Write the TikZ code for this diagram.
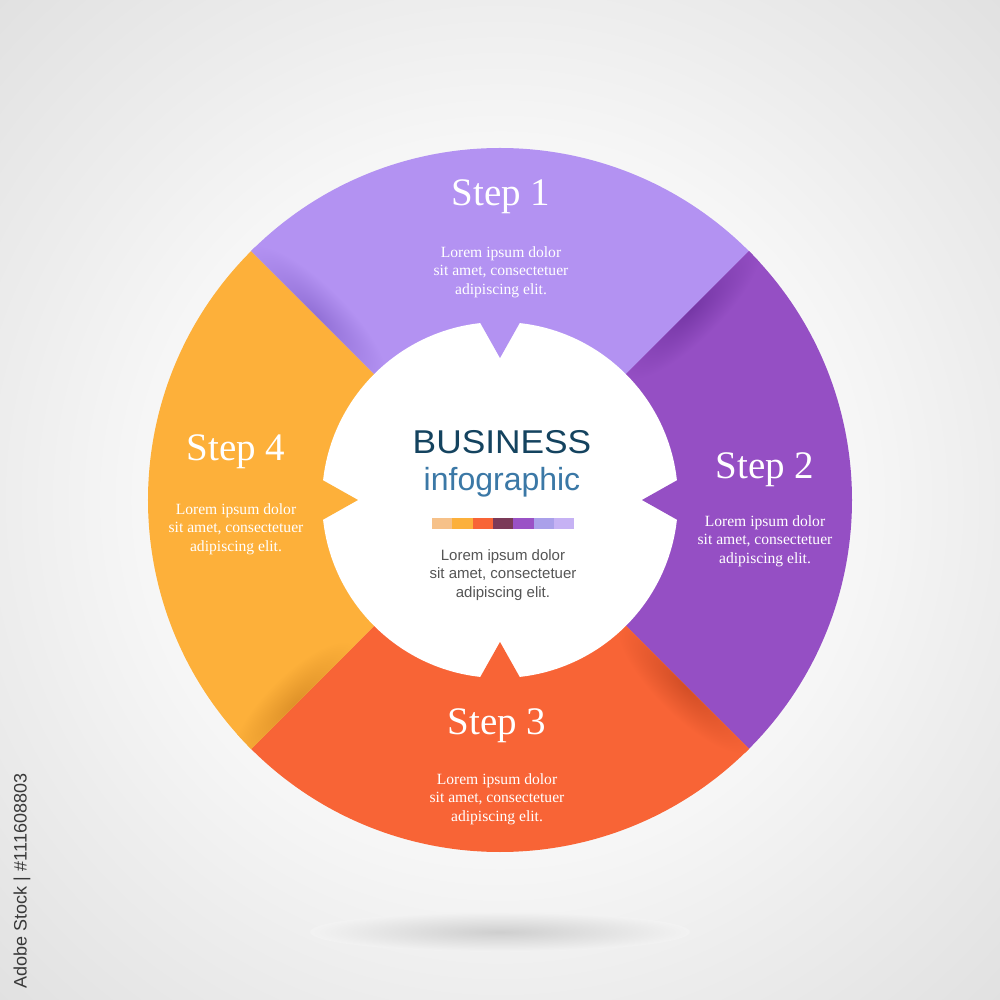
\documentclass[tikz,border=0pt]{standalone}
\usepackage{fontspec}
\setmainfont{Liberation Serif}
\setsansfont{Liberation Sans}
\definecolor{secA}{HTML}{B392F2}
\definecolor{secB}{HTML}{954FC4}
\definecolor{secC}{HTML}{F86436}
\definecolor{secD}{HTML}{FDB03A}
\definecolor{shA}{HTML}{9270D6}
\definecolor{shB}{HTML}{7637A6}
\definecolor{shC}{HTML}{D24E26}
\definecolor{shD}{HTML}{DE9128}
\definecolor{titleblue}{HTML}{14435F}
\definecolor{subblue}{HTML}{3B78A6}
\definecolor{txtgray}{HTML}{555555}
\definecolor{barA}{HTML}{F6C189}
\definecolor{barB}{HTML}{FCB03B}
\definecolor{barC}{HTML}{F86436}
\definecolor{barD}{HTML}{7B3A58}
\definecolor{barE}{HTML}{9A52C6}
\definecolor{barF}{HTML}{AAA0EA}
\definecolor{barG}{HTML}{C6B2F4}
\pgfdeclareradialshading{bgshade}{\pgfpointorigin}{color(0bp)=(white); color(17bp)=(white!97!black); color(25bp)=(white!93!black); color(36bp)=(white!88!black); color(50bp)=(white!88!black)}
\tikzset{
  steptitle/.style={text=white, font=\fontsize{39}{44}\selectfont, anchor=base, inner sep=0pt},
  steptext/.style={text=white, align=center, font=\fontsize{15.6}{18.6}\selectfont, inner sep=0pt},
}
\newcommand{\sectorpath}[2]{(0,0) -- (#1:352) arc[start angle=#1, end angle=#2, radius=352] -- cycle}
\newcommand{\foldshadow}[7]{%
  \begin{scope}
    \clip \sectorpath{#1}{#2};
    \begin{scope}[transform canvas={rotate=#3}]
      \shade[inner color=#4, outer color=#5] (#6,0) ellipse [x radius=#7, y radius=30];
    \end{scope}
  \end{scope}}
\begin{document}
\begin{tikzpicture}[x=1pt,y=1pt]
  \useasboundingbox (-500,-500) rectangle (500,500);
  \shade[shading=bgshade] (-500,-500) rectangle (500,500);
  % floor shadow
  \shade[inner color=black!19, outer color=white!95!black] (0,-432) ellipse [x radius=190, y radius=20];
  % sectors
  \fill[secA] \sectorpath{45}{135};
  \fill[secB] \sectorpath{-45}{45};
  \fill[secC] \sectorpath{-135}{-45};
  \fill[secD] \sectorpath{135}{225};
  % folded-paper shadows
  \foldshadow{45}{135}{135}{shA}{secA}{260}{95}
  \foldshadow{-45}{45}{45}{shB}{secB}{270}{95}
  \foldshadow{-135}{-45}{-45}{shC}{secC}{262}{92}
  \foldshadow{135}{225}{225}{shD}{secD}{290}{85}
  % inner disc
  \fill[white] (0,0) circle (178);
  % pointers
  \fill[secA] (83:183) -- (90:142) -- (97:183) -- cycle;
  \fill[secB] (-7:183) -- (0:142) -- (7:183) -- cycle;
  \fill[secC] (-97:183) -- (-90:142) -- (-83:183) -- cycle;
  \fill[secD] (173:183) -- (180:142) -- (187:183) -- cycle;
  % step labels
  \node[steptitle] (s1title) at (1,294) {Step 1};
  \node[steptext] (s1text) at (1,228) {Lorem ipsum dolor\\sit amet, consectetuer\\adipiscing elit.};
  \node[steptitle] (s2title) at (265,21) {Step 2};
  \node[steptext] (s2text) at (265,-41) {Lorem ipsum dolor\\sit amet, consectetuer\\adipiscing elit.};
  \node[steptitle] (s3title) at (-3,-234) {Step 3};
  \node[steptext] (s3text) at (-3,-299) {Lorem ipsum dolor\\sit amet, consectetuer\\adipiscing elit.};
  \node[steptitle] (s4title) at (-264,39) {Step 4};
  \node[steptext] (s4text) at (-264,-29) {Lorem ipsum dolor\\sit amet, consectetuer\\adipiscing elit.};
  % centre
  \node[anchor=base, inner sep=0pt, text=titleblue, font=\sffamily\fontsize{33}{36}\selectfont, xscale=1.07] (title) at (2,46) {BUSINESS};
  \node[anchor=base, inner sep=0pt, text=subblue, font=\sffamily\fontsize{32}{36}\selectfont] (subtitle) at (2,9) {infographic};
  \foreach \c [count=\i from 0] in {barA,barB,barC,barD,barE,barF,barG}
    \fill[\c] (-68+\i*20.3,-18) rectangle (-68+\i*20.3+20.4,-29);
  \node[inner sep=0pt, align=center, text=txtgray, font=\sffamily\fontsize{15}{18.5}\selectfont] (ctext) at (3,-75) {Lorem ipsum dolor\\sit amet, consectetuer\\adipiscing elit.};
  % side credit
  \node[rotate=90, inner sep=0pt, text=black!78, font=\sffamily\fontsize{18}{20}\selectfont] (credit) at (-478,-381) {Adobe Stock | \#111608803};
\end{tikzpicture}
\end{document}
